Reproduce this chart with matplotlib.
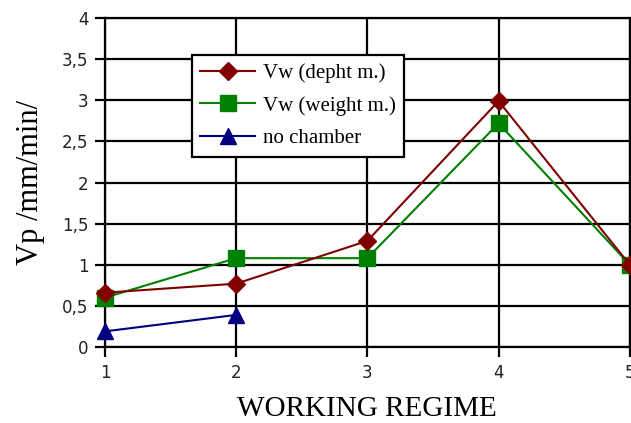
import numpy as np
import matplotlib.pyplot as plt

regime = [1, 2, 3, 4, 5]
vw_depht = [0.66, 0.77, 1.29, 2.99, 1.0]
vw_weight = [0.6, 1.08, 1.08, 2.72, 1.0]
regime_nc = [1, 2]
no_chamber = [0.19, 0.39]

yticks = [0, 0.5, 1, 1.5, 2, 2.5, 3, 3.5, 4]
ylabels = ['0', '0,5', '1', '1,5', '2', '2,5', '3', '3,5', '4']

fig = plt.figure(figsize=(6.31, 4.23), dpi=100)
ax = fig.add_axes([0.1664, 0.1797, 0.8316, 0.7777])

ax.plot(regime, vw_depht, color='#800000', lw=1.5, marker='D', ms=9,
        label='Vw (depht m.)', zorder=4, clip_on=False)
ax.plot(regime, vw_weight, color='#008000', lw=1.5, marker='s', ms=11,
        label='Vw (weight m.)', zorder=3, clip_on=False)
ax.plot(regime_nc, no_chamber, color='#000080', lw=1.5, marker='^', ms=11,
        label='no chamber', zorder=3, clip_on=False)

ax.set_xlim(1, 5)
ax.set_ylim(0, 4)
ax.set_xticks(regime)
ax.set_yticks(yticks)
ax.set_yticklabels(ylabels)
ax.grid(True, color='black', lw=1.6)
ax.set_axisbelow(True)
for s in ax.spines.values():
    s.set_linewidth(1.6)
    s.set_color('black')
ax.tick_params(direction='out', length=7, width=1.6, labelsize=12,
               labelcolor='#222222', pad=5)

ax.set_xlabel('WORKING REGIME', family='Liberation Serif', fontsize=21, labelpad=10)
ax.set_ylabel('Vp /mm/min/', family='Liberation Serif', fontsize=22, labelpad=12)

leg = ax.legend(loc='upper left', bbox_to_anchor=(0.166, 0.8875),
                prop={'family': 'Liberation Serif', 'size': 15},
                frameon=True, fancybox=False, edgecolor='black', framealpha=1,
                handlelength=2.6, handletextpad=0.4, borderpad=0.4,
                labelspacing=0.62, borderaxespad=0)
leg.get_frame().set_linewidth(1.6)
leg.set_zorder(5)

fig.savefig('out.png', dpi=100)
